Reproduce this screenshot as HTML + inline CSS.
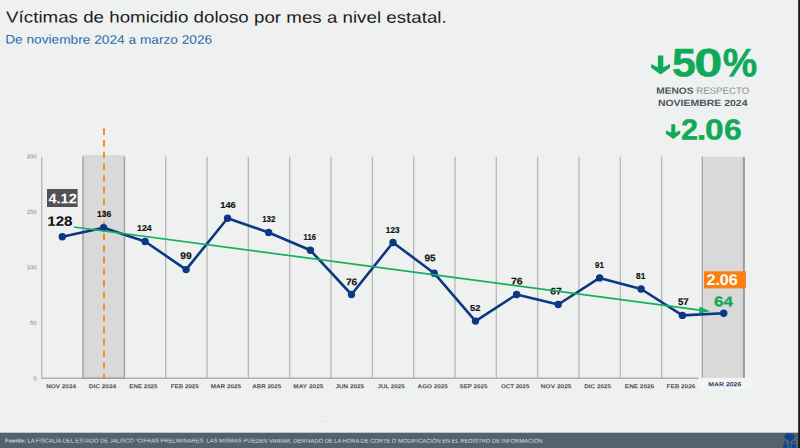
<!DOCTYPE html>
<html lang="es"><head><meta charset="utf-8"><title>Víctimas de homicidio doloso</title>
<style>html,body{margin:0;padding:0;background:#eff1f0;}body{width:800px;height:448px;overflow:hidden;font-family:"Liberation Sans",sans-serif;}svg{display:block;}text{font-family:"Liberation Sans",sans-serif;}</style>
</head><body>
<svg width="800" height="448" viewBox="0 0 800 448">
<rect x="0" y="0" width="800" height="448" fill="#eff1f0"/>
<text transform="translate(6.11 22.50) matrix(1 0.0005 0 1 0 0)" font-size="16.00" fill="#1e1e1e" textLength="440.59" lengthAdjust="spacingAndGlyphs">Víctimas de homicidio doloso por mes a nivel estatal.</text>
<text transform="translate(5.18 43.60) matrix(1 0.0005 0 1 0 0)" font-size="12.30" fill="#296cab" textLength="207.03" lengthAdjust="spacingAndGlyphs">De noviembre 2024 a marzo 2026</text>
<rect x="82.3" y="155.0" width="42.8" height="223.5" fill="#d9d9d9"/>
<rect x="701.8" y="156.8" width="43.1" height="221.0" fill="#d9d9d9"/>
<rect x="698" y="378.3" width="54" height="11.5" fill="#f3f4f4"/>
<line x1="41.70" y1="156.7" x2="41.70" y2="378.5" stroke="#b9bbba" stroke-width="1.4"/>
<line x1="83.08" y1="156.8" x2="83.08" y2="378.5" stroke="#a4a4a4" stroke-width="1.5"/>
<line x1="124.41" y1="156.8" x2="124.41" y2="378.5" stroke="#a4a4a4" stroke-width="1.5"/>
<line x1="165.69" y1="156.7" x2="165.69" y2="378.5" stroke="#b9bbba" stroke-width="1.4"/>
<line x1="207.02" y1="156.7" x2="207.02" y2="378.5" stroke="#b9bbba" stroke-width="1.4"/>
<line x1="248.35" y1="156.7" x2="248.35" y2="378.5" stroke="#b9bbba" stroke-width="1.4"/>
<line x1="289.68" y1="156.7" x2="289.68" y2="378.5" stroke="#b9bbba" stroke-width="1.4"/>
<line x1="331.01" y1="156.7" x2="331.01" y2="378.5" stroke="#b9bbba" stroke-width="1.4"/>
<line x1="372.34" y1="156.7" x2="372.34" y2="378.5" stroke="#b9bbba" stroke-width="1.4"/>
<line x1="413.67" y1="156.7" x2="413.67" y2="378.5" stroke="#b9bbba" stroke-width="1.4"/>
<line x1="455.00" y1="156.7" x2="455.00" y2="378.5" stroke="#b9bbba" stroke-width="1.4"/>
<line x1="496.33" y1="156.7" x2="496.33" y2="378.5" stroke="#b9bbba" stroke-width="1.4"/>
<line x1="537.66" y1="156.7" x2="537.66" y2="378.5" stroke="#b9bbba" stroke-width="1.4"/>
<line x1="578.99" y1="156.7" x2="578.99" y2="378.5" stroke="#b9bbba" stroke-width="1.4"/>
<line x1="620.32" y1="156.7" x2="620.32" y2="378.5" stroke="#b9bbba" stroke-width="1.4"/>
<line x1="661.65" y1="156.7" x2="661.65" y2="378.5" stroke="#b9bbba" stroke-width="1.4"/>
<line x1="702.3" y1="156.8" x2="702.3" y2="377.8" stroke="#a2a2a2" stroke-width="1.2"/>
<line x1="743.9" y1="156.8" x2="743.9" y2="377.8" stroke="#9c9c9c" stroke-width="2"/>
<line x1="41.0" y1="378.3" x2="698.5" y2="378.3" stroke="#b0b2b1" stroke-width="1.5"/>
<line x1="82.3" y1="378.3" x2="125.1" y2="378.3" stroke="#a2a2a2" stroke-width="1.4"/>
<text transform="translate(36.50 380.35) matrix(1 0.0005 0 1 0 0)" font-size="5.90" fill="#7a7a7a" text-anchor="end">0</text>
<text transform="translate(36.50 324.85) matrix(1 0.0005 0 1 0 0)" font-size="5.90" fill="#7a7a7a" text-anchor="end">50</text>
<text transform="translate(36.50 269.35) matrix(1 0.0005 0 1 0 0)" font-size="5.90" fill="#7a7a7a" text-anchor="end">100</text>
<text transform="translate(36.50 213.85) matrix(1 0.0005 0 1 0 0)" font-size="5.90" fill="#7a7a7a" text-anchor="end">150</text>
<text transform="translate(36.50 158.35) matrix(1 0.0005 0 1 0 0)" font-size="5.90" fill="#7a7a7a" text-anchor="end">200</text>
<text transform="translate(46.17 388.20) matrix(1 0.0005 0 1 0 0)" font-size="5.80" font-weight="bold" fill="#4e4e4e" textLength="29.86" lengthAdjust="spacingAndGlyphs">NOV 2024</text>
<text transform="translate(88.87 388.20) matrix(1 0.0005 0 1 0 0)" font-size="5.80" font-weight="bold" fill="#4e4e4e" textLength="27.27" lengthAdjust="spacingAndGlyphs">DIC 2024</text>
<text transform="translate(129.34 388.20) matrix(1 0.0005 0 1 0 0)" font-size="5.80" font-weight="bold" fill="#4e4e4e" textLength="28.09" lengthAdjust="spacingAndGlyphs">ENE 2025</text>
<text transform="translate(170.83 388.20) matrix(1 0.0005 0 1 0 0)" font-size="5.80" font-weight="bold" fill="#4e4e4e" textLength="27.89" lengthAdjust="spacingAndGlyphs">FEB 2025</text>
<text transform="translate(210.73 388.20) matrix(1 0.0005 0 1 0 0)" font-size="5.80" font-weight="bold" fill="#4e4e4e" textLength="30.30" lengthAdjust="spacingAndGlyphs">MAR 2025</text>
<text transform="translate(252.25 388.20) matrix(1 0.0005 0 1 0 0)" font-size="5.80" font-weight="bold" fill="#4e4e4e" textLength="28.93" lengthAdjust="spacingAndGlyphs">ABR 2025</text>
<text transform="translate(293.36 388.20) matrix(1 0.0005 0 1 0 0)" font-size="5.80" font-weight="bold" fill="#4e4e4e" textLength="30.02" lengthAdjust="spacingAndGlyphs">MAY 2025</text>
<text transform="translate(335.45 388.20) matrix(1 0.0005 0 1 0 0)" font-size="5.80" font-weight="bold" fill="#4e4e4e" textLength="28.57" lengthAdjust="spacingAndGlyphs">JUN 2025</text>
<text transform="translate(377.41 388.20) matrix(1 0.0005 0 1 0 0)" font-size="5.80" font-weight="bold" fill="#4e4e4e" textLength="27.27" lengthAdjust="spacingAndGlyphs">JUL 2025</text>
<text transform="translate(417.59 388.20) matrix(1 0.0005 0 1 0 0)" font-size="5.80" font-weight="bold" fill="#4e4e4e" textLength="30.24" lengthAdjust="spacingAndGlyphs">AGO 2025</text>
<text transform="translate(459.52 388.20) matrix(1 0.0005 0 1 0 0)" font-size="5.80" font-weight="bold" fill="#4e4e4e" textLength="27.96" lengthAdjust="spacingAndGlyphs">SEP 2025</text>
<text transform="translate(500.90 388.20) matrix(1 0.0005 0 1 0 0)" font-size="5.80" font-weight="bold" fill="#4e4e4e" textLength="28.53" lengthAdjust="spacingAndGlyphs">OCT 2025</text>
<text transform="translate(540.86 388.20) matrix(1 0.0005 0 1 0 0)" font-size="5.80" font-weight="bold" fill="#4e4e4e" textLength="30.63" lengthAdjust="spacingAndGlyphs">NOV 2025</text>
<text transform="translate(584.22 388.20) matrix(1 0.0005 0 1 0 0)" font-size="5.80" font-weight="bold" fill="#4e4e4e" textLength="26.91" lengthAdjust="spacingAndGlyphs">DIC 2025</text>
<text transform="translate(624.87 388.20) matrix(1 0.0005 0 1 0 0)" font-size="5.80" font-weight="bold" fill="#4e4e4e" textLength="29.27" lengthAdjust="spacingAndGlyphs">ENE 2026</text>
<text transform="translate(666.52 388.20) matrix(1 0.0005 0 1 0 0)" font-size="5.80" font-weight="bold" fill="#4e4e4e" textLength="28.76" lengthAdjust="spacingAndGlyphs">FEB 2026</text>
<text transform="translate(708.24 386.20) matrix(1 0.0005 0 1 0 0)" font-size="6.00" font-weight="bold" fill="#2a3f6a" textLength="33.01" lengthAdjust="spacingAndGlyphs">MAR 2026</text>
<line x1="104" y1="128.3" x2="104" y2="378.6" stroke="#fa8a18" stroke-width="1.9" stroke-dasharray="6.66 5.02"/>
<polyline points="62.3,236.7 103.6,227.7 145.1,241.5 186.1,269.6 227.6,218.2 268.6,232.5 310.4,250.3 351.5,294.5 393.0,242.5 434.2,273.2 475.5,321.1 516.6,294.5 558.2,304.5 599.6,277.9 641.1,289.0 682.4,315.4 723.7,313.3" fill="none" stroke="#0a3882" stroke-width="2.6" stroke-linejoin="round" stroke-linecap="round"/>
<circle cx="62.3" cy="236.7" r="3.7" fill="#0a3882"/>
<circle cx="103.6" cy="227.7" r="3.7" fill="#0a3882"/>
<circle cx="145.1" cy="241.5" r="3.7" fill="#0a3882"/>
<circle cx="186.1" cy="269.6" r="3.7" fill="#0a3882"/>
<circle cx="227.6" cy="218.2" r="3.7" fill="#0a3882"/>
<circle cx="268.6" cy="232.5" r="3.7" fill="#0a3882"/>
<circle cx="310.4" cy="250.3" r="3.7" fill="#0a3882"/>
<circle cx="351.5" cy="294.5" r="3.7" fill="#0a3882"/>
<circle cx="393.0" cy="242.5" r="3.7" fill="#0a3882"/>
<circle cx="434.2" cy="273.2" r="3.7" fill="#0a3882"/>
<circle cx="475.5" cy="321.1" r="3.7" fill="#0a3882"/>
<circle cx="516.6" cy="294.5" r="3.7" fill="#0a3882"/>
<circle cx="558.2" cy="304.5" r="3.7" fill="#0a3882"/>
<circle cx="599.6" cy="277.9" r="3.7" fill="#0a3882"/>
<circle cx="641.1" cy="289.0" r="3.7" fill="#0a3882"/>
<circle cx="682.4" cy="315.4" r="3.7" fill="#0a3882"/>
<circle cx="723.7" cy="313.3" r="3.7" fill="#0a3882"/>
<text transform="translate(97.06 217.35) matrix(1 0.0005 0 1 0 0)" font-size="9.60" font-weight="bold" fill="#141414" stroke="#141414" stroke-width="0.20" textLength="14.25" lengthAdjust="spacingAndGlyphs">136</text>
<text transform="translate(137.04 231.25) matrix(1 0.0005 0 1 0 0)" font-size="9.60" font-weight="bold" fill="#141414" stroke="#141414" stroke-width="0.20" textLength="14.70" lengthAdjust="spacingAndGlyphs">124</text>
<text transform="translate(180.34 258.95) matrix(1 0.0005 0 1 0 0)" font-size="9.60" font-weight="bold" fill="#141414" stroke="#141414" stroke-width="0.20" textLength="11.34" lengthAdjust="spacingAndGlyphs">99</text>
<text transform="translate(220.21 207.75) matrix(1 0.0005 0 1 0 0)" font-size="9.60" font-weight="bold" fill="#141414" stroke="#141414" stroke-width="0.20" textLength="15.53" lengthAdjust="spacingAndGlyphs">146</text>
<text transform="translate(262.20 222.45) matrix(1 0.0005 0 1 0 0)" font-size="9.60" font-weight="bold" fill="#141414" stroke="#141414" stroke-width="0.20" textLength="13.22" lengthAdjust="spacingAndGlyphs">132</text>
<text transform="translate(303.57 239.85) matrix(1 0.0005 0 1 0 0)" font-size="9.60" font-weight="bold" fill="#141414" stroke="#141414" stroke-width="0.20" textLength="12.31" lengthAdjust="spacingAndGlyphs">116</text>
<text transform="translate(345.91 285.25) matrix(1 0.0005 0 1 0 0)" font-size="9.60" font-weight="bold" fill="#141414" stroke="#141414" stroke-width="0.20" textLength="11.36" lengthAdjust="spacingAndGlyphs">76</text>
<text transform="translate(385.83 232.85) matrix(1 0.0005 0 1 0 0)" font-size="9.60" font-weight="bold" fill="#141414" stroke="#141414" stroke-width="0.20" textLength="13.66" lengthAdjust="spacingAndGlyphs">123</text>
<text transform="translate(424.55 261.15) matrix(1 0.0005 0 1 0 0)" font-size="9.60" font-weight="bold" fill="#141414" stroke="#141414" stroke-width="0.20" textLength="11.13" lengthAdjust="spacingAndGlyphs">95</text>
<text transform="translate(470.01 311.30) matrix(1 0.0005 0 1 0 0)" font-size="9.60" font-weight="bold" fill="#141414" stroke="#141414" stroke-width="0.20" textLength="10.26" lengthAdjust="spacingAndGlyphs">52</text>
<text transform="translate(510.90 284.55) matrix(1 0.0005 0 1 0 0)" font-size="9.60" font-weight="bold" fill="#141414" stroke="#141414" stroke-width="0.20" textLength="11.68" lengthAdjust="spacingAndGlyphs">76</text>
<text transform="translate(550.22 294.55) matrix(1 0.0005 0 1 0 0)" font-size="9.60" font-weight="bold" fill="#141414" stroke="#141414" stroke-width="0.20" textLength="11.38" lengthAdjust="spacingAndGlyphs">67</text>
<text transform="translate(595.02 267.95) matrix(1 0.0005 0 1 0 0)" font-size="9.60" font-weight="bold" fill="#141414" stroke="#141414" stroke-width="0.20" textLength="8.85" lengthAdjust="spacingAndGlyphs">91</text>
<text transform="translate(636.08 279.15) matrix(1 0.0005 0 1 0 0)" font-size="9.60" font-weight="bold" fill="#141414" stroke="#141414" stroke-width="0.20" textLength="9.25" lengthAdjust="spacingAndGlyphs">81</text>
<text transform="translate(678.00 305.05) matrix(1 0.0005 0 1 0 0)" font-size="9.60" font-weight="bold" fill="#141414" stroke="#141414" stroke-width="0.20" textLength="10.73" lengthAdjust="spacingAndGlyphs">57</text>
<line x1="74" y1="227" x2="702" y2="310.3" stroke="#14b05e" stroke-width="1.7"/>
<polygon points="710.0,311.3 699.1,313.5 699.6,306.4" fill="#14b05e"/>
<rect x="47" y="189" width="30.6" height="18" fill="#525252"/>
<text transform="translate(48.48 203.20) matrix(1 0.0005 0 1 0 0)" font-size="13.75" font-weight="bold" fill="#ffffff" textLength="28.30" lengthAdjust="spacingAndGlyphs">4.12</text>
<text transform="translate(47.25 225.76) matrix(1 0.0005 0 1 0 0)" font-size="13.56" font-weight="bold" fill="#0a0a0a" textLength="25.23" lengthAdjust="spacingAndGlyphs">128</text>
<rect x="704" y="271.3" width="41.9" height="17.1" fill="#fb7f12"/>
<text transform="translate(706.44 284.94) matrix(1 0.0005 0 1 0 0)" font-size="15.54" font-weight="bold" fill="#ffffff" textLength="31.35" lengthAdjust="spacingAndGlyphs">2.06</text>
<text transform="translate(714.12 306.31) matrix(1 0.0005 0 1 0 0)" font-size="13.98" font-weight="bold" fill="#15a85a" stroke="#15a85a" stroke-width="0.30" textLength="18.82" lengthAdjust="spacingAndGlyphs">64</text>
<text transform="translate(672.02 76.20) matrix(1 0.0005 0 1 0 0)" font-size="39.50" font-weight="bold" fill="#0fa957" stroke="#0fa957" stroke-width="0.50" textLength="23.95" lengthAdjust="spacingAndGlyphs">5</text>
<text transform="translate(694.23 76.20) matrix(1 0.0005 0 1 0 0)" font-size="39.50" font-weight="bold" fill="#0fa957" stroke="#0fa957" stroke-width="0.50" textLength="28.10" lengthAdjust="spacingAndGlyphs">0</text>
<text transform="translate(722.78 76.20) matrix(1 0.0005 0 1 0 0)" font-size="39.50" font-weight="bold" fill="#0fa957" stroke="#0fa957" stroke-width="0.50" textLength="34.48" lengthAdjust="spacingAndGlyphs">%</text>
<polygon points="657.9,55.6 663.3,55.6 663.3,67.2 670,64.1 670,67.8 660.6,74.4 651.1,67.8 651.1,64.1 657.9,67.2" fill="#0fa957"/>
<text transform="translate(656.22 93.70) matrix(1 0.0005 0 1 0 0)" font-size="9.00" font-weight="bold" fill="#4d5560" textLength="37.28" lengthAdjust="spacingAndGlyphs">MENOS</text>
<text transform="translate(696.21 93.70) matrix(1 0.0005 0 1 0 0)" font-size="9.00" fill="#8a9096" textLength="52.96" lengthAdjust="spacingAndGlyphs">RESPECTO</text>
<text transform="translate(657.90 105.90) matrix(1 0.0005 0 1 0 0)" font-size="9.00" font-weight="bold" fill="#4d5560" textLength="89.56" lengthAdjust="spacingAndGlyphs">NOVIEMBRE 2024</text>
<text transform="translate(681.02 139.40) matrix(1 0.0005 0 1 0 0)" font-size="29.00" font-weight="bold" fill="#0fa957" stroke="#0fa957" stroke-width="0.40" textLength="17.11" lengthAdjust="spacingAndGlyphs">2</text>
<text transform="translate(696.64 139.40) matrix(1 0.0005 0 1 0 0)" font-size="29.00" font-weight="bold" fill="#0fa957" stroke="#0fa957" stroke-width="0.40" textLength="9.66" lengthAdjust="spacingAndGlyphs">.</text>
<text transform="translate(704.96 139.40) matrix(1 0.0005 0 1 0 0)" font-size="29.00" font-weight="bold" fill="#0fa957" stroke="#0fa957" stroke-width="0.40" textLength="18.62" lengthAdjust="spacingAndGlyphs">0</text>
<text transform="translate(724.02 139.40) matrix(1 0.0005 0 1 0 0)" font-size="29.00" font-weight="bold" fill="#0fa957" stroke="#0fa957" stroke-width="0.40" textLength="17.73" lengthAdjust="spacingAndGlyphs">6</text>
<polygon points="671.3,124.2 675.2,124.2 675.2,132.6 680.2,130.5 680.2,133.8 673.3,139 665.9,133.8 665.9,130.5 671.3,132.6" fill="#0fa957"/>
<rect x="322" y="421" width="8.3" height="1" fill="#e4e6e6"/>
<rect x="0" y="432.7" width="800" height="15.3" fill="#52636f"/>
<text transform="translate(5.00 442.50) matrix(1 0.0005 0 1 0 0)" font-size="5.60" fill="#d9dfe4" textLength="537.60" lengthAdjust="spacingAndGlyphs"><tspan font-weight="bold">Fuente:</tspan> LA FISCALÍA DEL ESTADO DE JALISCO *CIFRAS PRELIMINARES. LAS MISMAS PUEDEN VARIAR, DERIVADO DE LA HORA DE CORTE O MODIFICACIÓN EN EL REGISTRO DE INFORMACIÓN</text>
<g fill="#0b478c">
<ellipse cx="789.6" cy="436.7" rx="5.2" ry="3.5"/>
<path d="M786.6 438.6 L792.6 438.6 L790.5 441.4 L790.5 448 L789.1 448 L789.1 441.4 Z"/>
<circle cx="785.3" cy="442.2" r="1.25"/><path d="M783 444.2 Q785.3 443.2 787.6 444.2 L787.2 448 L783.4 448 Z"/>
<circle cx="793.9" cy="442.2" r="1.25"/><path d="M791.6 444.2 Q793.9 443.2 796.2 444.2 L795.8 448 L792 448 Z"/>
</g>
<rect x="798.2" y="0" width="1.8" height="448" fill="#161616"/>
</svg>
</body></html>
